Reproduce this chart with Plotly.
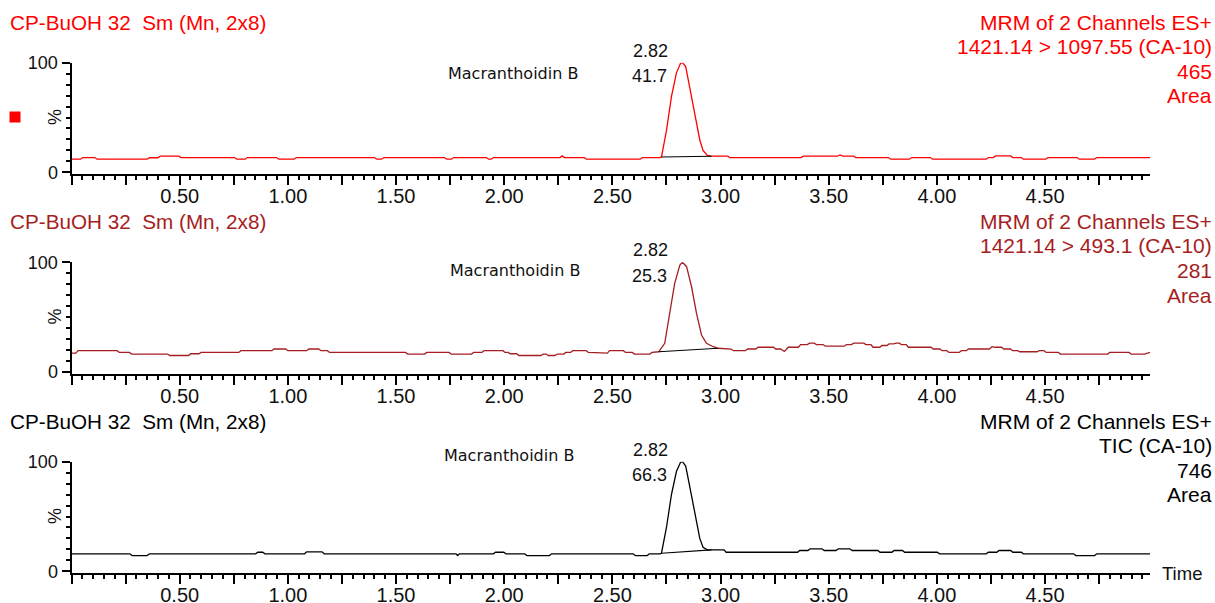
import plotly.graph_objects as go

# ---------------- data (time in min, intensity in %) ----------------
t1 = [0.000, 0.042, 0.052, 0.108, 0.118, 0.350, 0.360, 0.398, 0.410, 0.496, 0.506, 0.754, 0.764,
      0.803, 0.813, 0.948, 0.958, 1.029, 1.039, 1.401, 1.411, 1.433, 1.443, 1.724, 1.734, 1.756,
      1.766, 1.918, 1.928, 1.940, 1.950, 2.258, 2.268, 2.278, 2.370, 2.380, 2.629, 2.639, 2.720,
      2.727, 2.750, 2.773, 2.796, 2.815, 2.824, 2.839, 2.857, 2.881, 2.904, 2.919, 2.939, 2.958,
      3.033, 3.043, 3.372, 3.382, 3.540, 3.552, 3.565, 3.615, 3.625, 3.776, 3.786, 3.873, 3.883,
      3.970, 3.980, 4.228, 4.238, 4.261, 4.271, 4.341, 4.351, 4.390, 4.400, 4.503, 4.513, 4.648,
      4.658, 4.729, 4.739, 4.985]
v1 = [12.0, 12.0, 13.5, 13.5, 12.0, 12.0, 13.3, 13.3, 14.8, 14.8, 13.5, 13.5, 12.0,
      12.0, 13.5, 13.5, 12.0, 12.0, 13.5, 13.5, 12.0, 12.0, 13.5, 13.5, 12.0, 12.0,
      13.5, 13.5, 12.0, 12.0, 13.5, 13.5, 15.0, 13.5, 13.5, 12.0, 12.0, 13.5, 13.5,
      14.0, 38.0, 69.0, 90.5, 99.5, 100.0, 96.5, 78.0, 54.0, 29.5, 20.0, 15.5, 14.7,
      14.7, 13.5, 13.5, 14.7, 14.7, 15.9, 14.7, 14.7, 13.5, 13.5, 12.0, 12.0, 13.5,
      13.5, 12.0, 12.0, 13.5, 13.5, 15.0, 15.0, 13.5, 13.5, 12.0, 12.0, 13.5, 13.5,
      12.0, 12.0, 13.5, 13.5]

t2 = [0.000, 0.020, 0.030, 0.211, 0.221, 0.268, 0.278, 0.444, 0.454, 0.541, 0.551, 0.589, 0.599,
      0.773, 0.783, 0.926, 0.936, 0.990, 1.000, 1.087, 1.097, 1.143, 1.153, 1.183, 1.193, 1.544,
      1.554, 1.632, 1.642, 1.745, 1.755, 1.849, 1.859, 1.897, 1.907, 1.994, 2.004, 2.018, 2.028,
      2.058, 2.068, 2.170, 2.180, 2.194, 2.204, 2.235, 2.245, 2.275, 2.285, 2.307, 2.317, 2.379,
      2.389, 2.462, 2.472, 2.477, 2.487, 2.551, 2.561, 2.592, 2.602, 2.673, 2.683, 2.706,
      2.714, 2.742, 2.765, 2.788, 2.812, 2.824, 2.843, 2.866, 2.889, 2.912, 2.935, 2.966, 2.989,
      3.049, 3.059, 3.115, 3.125, 3.163, 3.173, 3.245, 3.255, 3.278, 3.295, 3.313, 3.360, 3.370,
      3.401, 3.411, 3.433, 3.443, 3.474, 3.484, 3.572, 3.582, 3.605, 3.615, 3.662, 3.672, 3.695,
      3.705, 3.736, 3.746, 3.769, 3.779, 3.801, 3.811, 3.826, 3.836, 3.858, 3.868, 3.973, 3.983,
      4.014, 4.024, 4.046, 4.056, 4.103, 4.113, 4.136, 4.146, 4.242, 4.255, 4.268, 4.299, 4.309,
      4.340, 4.350, 4.373, 4.383, 4.463, 4.473, 4.495, 4.505, 4.561, 4.571, 4.789, 4.799, 4.888,
      4.898, 4.960, 4.985]
v2 = [17.1, 17.1, 19.3, 19.3, 17.7, 17.7, 16.2, 16.2, 14.9, 14.9, 16.5, 16.5, 17.7,
      17.7, 19.3, 19.3, 20.8, 20.8, 19.3, 19.3, 20.8, 20.8, 19.3, 19.3, 17.7, 17.7,
      16.2, 16.2, 17.7, 17.7, 16.2, 16.2, 17.7, 17.7, 19.3, 19.3, 17.7, 17.7, 16.5,
      16.5, 14.9, 14.9, 16.2, 16.2, 14.9, 14.9, 16.2, 16.2, 17.7, 17.7, 19.3, 19.3,
      17.7, 17.7, 17.1, 17.1, 19.3, 19.3, 17.7, 17.7, 16.2, 16.2, 17.7, 17.7,
      18.3, 26.0, 53.4, 80.7, 97.4, 100.0, 95.9, 77.6, 53.4, 33.6, 26.0, 22.9, 21.5,
      20.8, 19.3, 19.3, 20.8, 20.8, 22.4, 22.4, 20.8, 20.8, 18.6, 22.4, 22.4, 24.9,
      24.9, 26.2, 26.2, 24.9, 24.9, 23.4, 23.4, 24.9, 24.9, 26.2, 26.2, 24.9, 24.9,
      22.4, 22.4, 24.0, 24.0, 25.5, 25.5, 26.2, 26.2, 24.9, 24.9, 22.4, 22.4, 20.8,
      20.8, 19.3, 19.3, 17.7, 17.7, 19.3, 19.3, 20.8, 20.8, 22.9, 22.4, 22.4, 20.8,
      20.8, 19.3, 19.3, 18.3, 18.3, 19.3, 19.3, 17.7, 17.7, 16.2, 16.2, 17.7, 17.7,
      16.2, 16.2, 17.7]

t3 = [0.000, 0.270, 0.280, 0.350, 0.360, 0.851, 0.861, 0.884, 0.894, 1.077, 1.087, 1.158, 1.168,
      1.777, 1.785, 1.793, 1.950, 1.960, 1.998, 2.008, 2.095, 2.105, 2.209, 2.219, 2.596, 2.606,
      2.661, 2.671, 2.720,
      2.727, 2.750, 2.773, 2.796, 2.815, 2.824, 2.839, 2.857, 2.881, 2.904, 2.919, 2.939, 2.958,
      3.016, 3.026, 3.356, 3.366, 3.404, 3.414, 3.469, 3.479, 3.534, 3.544, 3.598, 3.608, 3.727,
      3.737, 3.792, 3.802, 3.841, 3.851, 4.002, 4.012, 4.228, 4.238, 4.277, 4.287, 4.341, 4.351,
      4.390, 4.400, 4.632, 4.642, 4.729, 4.739, 4.985]
v3 = [16.0, 16.0, 14.4, 14.4, 16.0, 16.0, 17.4, 17.4, 16.0, 16.0, 17.8, 17.8, 16.0,
      16.0, 14.4, 16.0, 16.0, 17.4, 17.4, 16.0, 16.0, 14.4, 14.4, 16.0, 16.0, 14.4,
      14.4, 16.0, 16.0,
      16.5, 40.0, 70.0, 91.0, 99.5, 100.0, 96.0, 78.0, 53.0, 30.0, 22.0, 19.6, 19.6,
      19.6, 17.4, 17.4, 19.0, 19.0, 20.5, 20.5, 19.0, 19.0, 20.5, 20.5, 19.0, 19.0,
      17.4, 17.4, 19.0, 19.0, 17.4, 17.4, 16.0, 16.0, 17.4, 17.4, 19.0, 19.0, 17.4,
      17.4, 16.0, 16.0, 14.4, 14.4, 16.0, 16.0]

times = [t1, t2, t3]
values = [v1, v2, v3]

# integration baselines (start time, start %, end time, end %)
base_t0 = [2.727, 2.714, 2.727]
base_v0 = [14.0, 18.3, 16.5]
base_t1 = [2.958, 2.989, 2.958]
base_v1 = [14.7, 21.5, 19.6]

peak_rt = ["2.82", "2.82", "2.82"]
peak_area = ["41.7", "25.3", "66.3"]
compound = ["Macranthoidin B", "Macranthoidin B", "Macranthoidin B"]
headers_left = ["CP-BuOH 32  Sm (Mn, 2x8)"] * 3
headers_right = [
    ["MRM of 2 Channels ES+", "1421.14 > 1097.55 (CA-10)", "465", "Area"],
    ["MRM of 2 Channels ES+", "1421.14 > 493.1 (CA-10)", "281", "Area"],
    ["MRM of 2 Channels ES+", "TIC (CA-10)", "746", "Area"],
]
colors = ["#FF0000", "#A51E22", "#000000"]

x_tickvals = [i * 0.25 for i in range(20)]
x_ticktext = ["%.2f" % v if (i % 2 == 0 and i > 0) else "" for i, v in enumerate(x_tickvals)]

# ---------------- layout helpers (pixel -> paper) ----------------
W, H = 1215, 603
def fx(p):
    return p / W
def fy(p):
    return 1 - p / H

SANS = "Liberation Sans, Arial, sans-serif"
DJ = "DejaVu Sans, sans-serif"

fig = go.Figure()
layout = dict(
    width=W, height=H, autosize=False,
    margin=dict(l=0, r=0, t=0, b=0, pad=0, autoexpand=False),
    paper_bgcolor="white", plot_bgcolor="white",
    showlegend=False, hovermode=False,
)

annotations = []
shapes = []
PAN = 199.5
for k in range(3):
    xa = "x" if k == 0 else "x%d" % (k + 1)
    ya = "y" if k == 0 else "y%d" % (k + 1)
    top = 62.7 + PAN * k
    bot = 174.3 + PAN * k
    fig.add_trace(go.Scatter(x=times[k], y=values[k], mode="lines",
                             line=dict(color=colors[k], width=1.3),
                             xaxis=xa, yaxis=ya))
    fig.add_trace(go.Scatter(x=[base_t0[k], base_t1[k]], y=[base_v0[k], base_v1[k]],
                             mode="lines", line=dict(color="black", width=1.1),
                             xaxis=xa, yaxis=ya))
    xkey = "xaxis" if k == 0 else "xaxis%d" % (k + 1)
    ykey = "yaxis" if k == 0 else "yaxis%d" % (k + 1)
    layout[xkey] = dict(
        domain=[fx(71.5), fx(1150)], range=[0, 4.985], anchor=ya, automargin=False,
        showgrid=False, zeroline=False, showline=True, linecolor="black", linewidth=2,
        ticks="outside", ticklen=9, tickwidth=1.5, tickcolor="black",
        tickmode="array", tickvals=x_tickvals, ticktext=x_ticktext, ticklabelstandoff=-6,
        tickfont=dict(family=SANS, size=20, color="#111"),
        minor=dict(dtick=0.05, tick0=0, ticks="outside", ticklen=4, tickwidth=1.5, tickcolor="black"),
        fixedrange=True,
    )
    layout[ykey] = dict(
        domain=[fy(bot), fy(top)], range=[-1.8, 100], anchor=xa, automargin=False,
        showgrid=False, zeroline=False, showline=True, linecolor="black", linewidth=2,
        ticks="outside", ticklen=8, tickwidth=1.5, tickcolor="black",
        tickmode="array", tickvals=[0, 100], ticktext=["0", "100"],
        tickfont=dict(family=SANS, size=18, color="#111"),
        minor=dict(dtick=10, tick0=0, ticks="outside", ticklen=4, tickwidth=1.5, tickcolor="black"),
        fixedrange=True,
    )
    # headers
    hy = 22 + PAN * k
    annotations.append(dict(xref="paper", yref="paper", x=fx(8), y=fy(hy), xanchor="left",
                            yanchor="middle", text=headers_left[k], showarrow=False,
                            font=dict(family=SANS, size=20.7, color=colors[k])))
    for j, line in enumerate(headers_right[k]):
        annotations.append(dict(xref="paper", yref="paper", x=fx(1214), y=fy(hy + 24.5 * j),
                                xanchor="right", yanchor="middle", text=line, showarrow=False,
                                font=dict(family=SANS, size=21, color=colors[k])))
    # % label
    annotations.append(dict(xref="paper", yref="paper", x=fx(54.5), y=fy(117.5 + PAN * k),
                            xanchor="center", yanchor="middle", text="%", textangle=-90,
                            showarrow=False, font=dict(family=SANS, size=18, color="#111")))
    # compound name
    cx = [513, 515, 509][k]
    cy = [73, 270, 455][k]
    annotations.append(dict(xref="paper", yref="paper", x=fx(cx), y=fy(cy), xanchor="center",
                            yanchor="middle", text=compound[k], showarrow=False,
                            font=dict(family=DJ, size=16, color="#111")))
    # peak labels anchored on apex
    vmax = max(values[k])
    apex_t = times[k][values[k].index(vmax)]
    annotations.append(dict(xref=xa, yref=ya, x=apex_t, y=vmax, xanchor="right", yanchor="middle",
                            xshift=-12, yshift=12, text=peak_rt[k], showarrow=False,
                            font=dict(family=SANS, size=18, color="#111")))
    annotations.append(dict(xref=xa, yref=ya, x=apex_t, y=vmax, xanchor="right", yanchor="middle",
                            xshift=-13, yshift=-13.5, text=peak_area[k], showarrow=False,
                            font=dict(family=SANS, size=18, color="#111")))
    shapes.append(dict(type="line", xref=xa, yref=ya, x0=apex_t - 0.052, x1=apex_t,
                       y0=vmax + 1.6, y1=vmax + 1.6, line=dict(color="black", width=1.2)))

# Time label
annotations.append(dict(xref="paper", yref="paper", x=fx(1160), y=fy(573), xanchor="left",
                        yanchor="middle", text="Time", showarrow=False,
                        font=dict(family=SANS, size=18.5, color="#111")))
# red square marker
shapes.append(dict(type="rect", xref="paper", yref="paper", x0=fx(9.5), x1=fx(20.5),
                   y0=fy(122.5), y1=fy(111.5), fillcolor="#FF0000", line=dict(width=0)))

layout["annotations"] = annotations
layout["shapes"] = shapes
fig.update_layout(**layout)
fig.write_html("out.html", config={"displayModeBar": False},
               post_script="document.body.style.margin='0';document.body.style.overflow='hidden';")
